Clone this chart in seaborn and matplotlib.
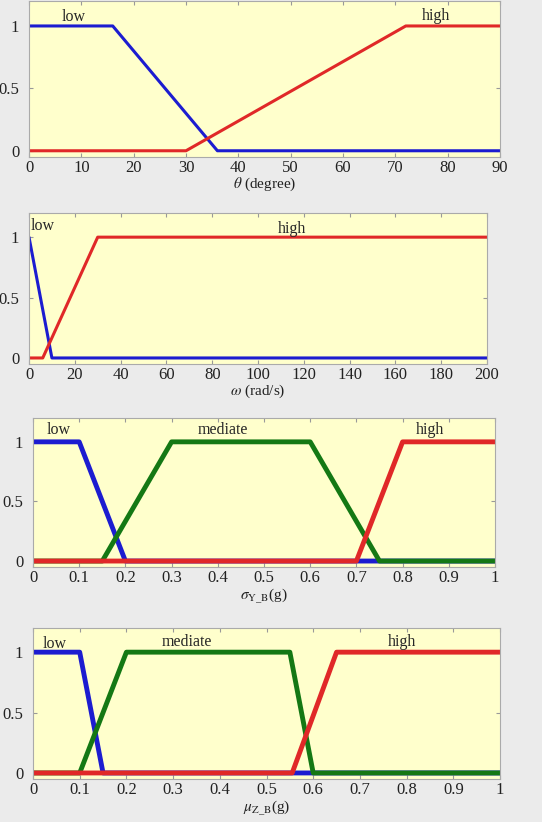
import matplotlib
matplotlib.use("Agg")
import matplotlib.pyplot as plt
import seaborn as sns
import numpy as np
import pandas as pd

sns.set_style("ticks")
plt.rcParams['font.family'] = ['Liberation Serif', 'DejaVu Serif']
plt.rcParams['mathtext.fontset'] = 'stix'

# ---- data ----
# panel 1: theta (degree)
theta_low_x = [0, 16, 36, 90]
theta_low_y = [1, 1, 0, 0]
theta_high_x = [0, 30, 72, 90]
theta_high_y = [0, 0, 1, 1]
theta_ticks = [0, 10, 20, 30, 40, 50, 60, 70, 80, 90]

# panel 2: omega (rad/s)
omega_low_x = [0, 10, 200]
omega_low_y = [1, 0, 0]
omega_high_x = [0, 6, 30, 200]
omega_high_y = [0, 0, 1, 1]
omega_ticks = [0, 20, 40, 60, 80, 100, 120, 140, 160, 180, 200]

# panel 3: sigma_Y_B (g)
sig_low_x = [0, 0.1, 0.2, 1]
sig_low_y = [1, 1, 0, 0]
sig_med_x = [0, 0.15, 0.3, 0.6, 0.75, 1]
sig_med_y = [0, 0, 1, 1, 0, 0]
sig_high_x = [0, 0.7, 0.8, 1]
sig_high_y = [0, 0, 1, 1]

# panel 4: mu_Z_B (g)
mu_low_x = [0, 0.1, 0.15, 1]
mu_low_y = [1, 1, 0, 0]
mu_med_x = [0, 0.1, 0.2, 0.55, 0.6, 1]
mu_med_y = [0, 0, 1, 1, 0, 0]
mu_high_x = [0, 0.555, 0.65, 1]
mu_high_y = [0, 0, 1, 1]
unit_ticks = [0, 0.1, 0.2, 0.3, 0.4, 0.5, 0.6, 0.7, 0.8, 0.9, 1]
unit_labels = ['0', '0.1', '0.2', '0.3', '0.4', '0.5', '0.6', '0.7', '0.8', '0.9', '1']

y_ticks = [0, 0.5, 1]
y_labels = ['0', '0.5', '1']

BLUE = '#1c1cd0'
RED = '#e02828'
GREEN = '#147814'
BG = '#ebebeb'
AXBG = '#ffffcc'

fig = plt.figure(figsize=(5.42, 8.22), dpi=100, facecolor=BG)

H = 822.0
W = 542.0
def add_ax(l, r, t, b):
    return fig.add_axes([l / W, 1 - b / H, (r - l) / W, (b - t) / H])

axes = [add_ax(29, 500, 1, 157), add_ax(29, 487, 213, 364),
        add_ax(33, 495, 418, 567), add_ax(33, 500, 628, 779)]

def draw(ax, x, y, color, lw):
    df = pd.DataFrame({'x': x, 'y': y})
    sns.lineplot(data=df, x='x', y='y', ax=ax, color=color, lw=lw,
                 sort=False, estimator=None, legend=False)

def style(ax, xlim, xticks, xlabels, xlabel):
    ax.set_facecolor(AXBG)
    ax.set_xlim(*xlim)
    ax.set_ylim(-0.05, 1.2)
    ax.set_xticks(xticks)
    ax.set_xticklabels(xlabels)
    ax.set_yticks(y_ticks)
    ax.set_yticklabels(y_labels)
    ax.tick_params(direction='in', top=True, right=True, length=3,
                   color='#999999', labelsize=12, labelcolor='#222222')
    ax.tick_params(axis='x', pad=2)
    ax.tick_params(axis='y', pad=7)
    for s in ax.spines.values():
        s.set_visible(True)
        s.set_color('#aaaaaa')
        s.set_linewidth(0.8)
    ax.set_xlabel(xlabel, fontsize=11, labelpad=0, color='#222222')
    ax.set_ylabel('')

FS = 11.5
# panel 1
ax = axes[0]
draw(ax, theta_low_x, theta_low_y, BLUE, 2.2)
draw(ax, theta_high_x, theta_high_y, RED, 2.2)
style(ax, (0, 90), theta_ticks, [str(t) for t in theta_ticks], r'$\theta$ (degree)')
ax.text(8.6, 1.07, 'low', ha='center', va='center', fontsize=FS)
ax.text(77.7, 1.08, 'high', ha='center', va='center', fontsize=FS)

# panel 2
ax = axes[1]
draw(ax, omega_low_x, omega_low_y, BLUE, 2.2)
draw(ax, omega_high_x, omega_high_y, RED, 2.2)
style(ax, (0, 200), omega_ticks, [str(t) for t in omega_ticks], r'$\omega$ (rad/s)')
ax.text(0.5, 1.09, 'low', ha='left', va='center', fontsize=FS)
ax.text(115, 1.07, 'high', ha='center', va='center', fontsize=FS)

# panel 3
ax = axes[2]
draw(ax, sig_low_x, sig_low_y, BLUE, 3.5)
draw(ax, sig_med_x, sig_med_y, GREEN, 3.5)
draw(ax, sig_high_x, sig_high_y, RED, 3.5)
style(ax, (0, 1), unit_ticks, unit_labels, r'$\sigma_{\mathrm{Y\_B}}$(g)')
ax.text(0.055, 1.1, 'low', ha='center', va='center', fontsize=FS)
ax.text(0.41, 1.1, 'mediate', ha='center', va='center', fontsize=FS)
ax.text(0.86, 1.1, 'high', ha='center', va='center', fontsize=FS)

# panel 4
ax = axes[3]
draw(ax, mu_low_x, mu_low_y, BLUE, 3.5)
draw(ax, mu_med_x, mu_med_y, GREEN, 3.5)
draw(ax, mu_high_x, mu_high_y, RED, 3.5)
style(ax, (0, 1), unit_ticks, unit_labels, r'$\mu_{\mathrm{Z\_B}}$(g)')
ax.text(0.047, 1.07, 'low', ha='center', va='center', fontsize=FS)
ax.text(0.33, 1.08, 'mediate', ha='center', va='center', fontsize=FS)
ax.text(0.79, 1.08, 'high', ha='center', va='center', fontsize=FS)

fig.savefig('out.png', dpi=100, facecolor=BG)
